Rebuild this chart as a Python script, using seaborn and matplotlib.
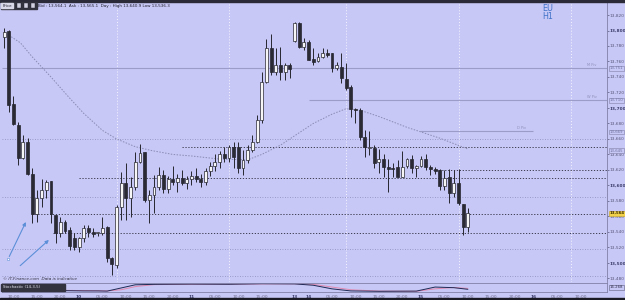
import numpy as np
import pandas as pd
import matplotlib
matplotlib.use("Agg")
import matplotlib.pyplot as plt
from matplotlib.patches import Rectangle
import seaborn as sns

sns.set_theme(style="white")
plt.rcParams['font.family'] = ['DejaVu Sans']

# ---------------- data (hourly candles, index 0 = day 9 08:00) ----------------
opens = [13792, 13799, 13705, 13678, 13635, 13656, 13615, 13563, 13584, 13594,
         13606, 13562, 13539, 13553, 13542, 13532, 13521, 13532, 13545, 13540,
         13539, 13538, 13546, 13506, 13497, 13572, 13603, 13584, 13598, 13630,
         13643, 13581, 13588, 13598, 13613, 13595, 13608, 13605, 13610, 13603,
         13608, 13612, 13608, 13604, 13618, 13625, 13630, 13640, 13636, 13650,
         13650, 13622, 13633, 13646, 13656, 13684, 13733, 13778, 13746, 13755,
         13746, 13755, 13786, 13810, 13779, 13785, 13763, 13761, 13766, 13771,
         13771, 13752, 13753, 13737, 13727, 13699, 13697, 13663, 13648, 13648,
         13630, 13634, 13624, 13622, 13624, 13611, 13625, 13634, 13622, 13625,
         13634, 13624, 13621, 13620, 13599, 13611, 13590, 13603, 13576, 13546]
highs = [13803, 13801, 13715, 13682, 13665, 13661, 13622, 13594, 13608, 13607,
         13606, 13562, 13559, 13555, 13546, 13538, 13534, 13549, 13549, 13545,
         13540, 13559, 13548, 13507, 13575, 13617, 13629, 13611, 13643, 13653,
         13643, 13594, 13613, 13624, 13620, 13612, 13625, 13615, 13620, 13612,
         13618, 13622, 13615, 13622, 13630, 13640, 13645, 13650, 13652, 13656,
         13656, 13646, 13652, 13665, 13691, 13746, 13789, 13795, 13777, 13779,
         13758, 13758, 13811, 13811, 13790, 13788, 13777, 13771, 13777, 13776,
         13771, 13759, 13771, 13758, 13730, 13700, 13700, 13671, 13670, 13652,
         13647, 13641, 13634, 13629, 13633, 13644, 13635, 13639, 13626, 13638,
         13641, 13626, 13624, 13621, 13620, 13621, 13620, 13621, 13576, 13571]
lows = [13777, 13695, 13678, 13626, 13634, 13613, 13551, 13553, 13572, 13584,
        13552, 13526, 13533, 13538, 13517, 13517, 13514, 13527, 13533, 13533,
        13535, 13536, 13501, 13484, 13493, 13555, 13555, 13559, 13594, 13629,
        13579, 13552, 13564, 13594, 13590, 13590, 13600, 13592, 13600, 13596,
        13600, 13605, 13598, 13600, 13612, 13618, 13622, 13630, 13630, 13622,
        13616, 13613, 13629, 13643, 13655, 13681, 13732, 13742, 13742, 13736,
        13736, 13739, 13785, 13777, 13775, 13762, 13755, 13759, 13765, 13766,
        13746, 13749, 13732, 13723, 13688, 13681, 13659, 13637, 13639, 13622,
        13616, 13611, 13592, 13611, 13611, 13611, 13622, 13616, 13611, 13624,
        13620, 13613, 13615, 13594, 13594, 13577, 13585, 13575, 13536, 13540]
closes = [13798, 13704, 13679, 13635, 13656, 13615, 13563, 13584, 13594, 13604,
          13563, 13539, 13553, 13541, 13522, 13521, 13532, 13545, 13540, 13537,
          13540, 13545, 13506, 13498, 13572, 13603, 13584, 13598, 13630, 13642,
          13581, 13588, 13598, 13613, 13595, 13608, 13605, 13610, 13603, 13608,
          13612, 13608, 13604, 13618, 13625, 13630, 13640, 13636, 13650, 13637,
          13622, 13633, 13646, 13656, 13684, 13733, 13778, 13746, 13755, 13746,
          13755, 13750, 13810, 13779, 13785, 13762, 13759, 13766, 13771, 13768,
          13752, 13755, 13739, 13726, 13699, 13697, 13663, 13650, 13650, 13629,
          13634, 13624, 13621, 13621, 13611, 13624, 13634, 13622, 13625, 13634,
          13624, 13621, 13619, 13599, 13610, 13590, 13603, 13577, 13546, 13564]

# slow moving average (read at selected candles)
ma_idx = [1, 3.5, 6, 10, 13.5, 17, 21, 24, 28, 31.5, 36, 40, 46, 52, 55, 59, 62, 66, 70, 73, 76, 80, 86, 93, 99]
ma_val = [13794, 13784, 13766, 13740, 13716, 13693, 13671, 13660, 13650, 13645, 13640, 13638, 13634, 13633, 13640, 13652, 13664, 13680, 13692, 13699, 13697, 13689, 13675, 13661, 13647]

# stochastic (14-3-5)
st_idx = [13, 17, 20, 22, 25, 28, 32, 40, 48, 55, 62, 66, 70, 74, 80, 88, 92, 96, 99]
st_k = [15, 12, 12, 10, 45, 80, 85, 88, 86, 92, 90, 75, 35, 12, 8, 10, 55, 48, 30]
st_d = [18, 16, 14, 12, 25, 60, 82, 86, 87, 90, 91, 85, 55, 25, 10, 8, 35, 50, 40]

# pivots and drawn levels
pivot_names = ["M Piv", "W Piv", "D Piv"]
pivot_levels = [13751, 13710, 13670]
dark_levels = [13650, 13620, 13610, 13563, 13539]
grey_levels = [13660, 13585, 13518, 13483]
axis_boxes = ["13,751", "13,710", "13,669", "13,645"]
axis_box_levels = [13751, 13710, 13669, 13645]
last_price = 13564

price_ticks = list(range(13480, 13821, 20))
time_pos = [2, 7, 12, 16, 21, 26, 31, 36, 40, 45, 50, 55, 62, 65, 70, 75, 80, 85, 89, 94, 99, 104, 109, 113, 118, 123]
time_lab = ["10:00", "15:00", "20:00", "10", "05:00", "10:00", "15:00", "20:00", "11", "05:00", "10:00", "15:00",
            "13", "14", "05:00", "10:00", "15:00", "20:00", "15", "05:00", "10:00", "15:00", "20:00", "16", "05:00", "10:00"]
day_sep = [24, 48, 73, 97, 121]

# ---------------- figure ----------------
BG = "#c8c8f6"
W, H = 625, 300
fig = plt.figure(figsize=(6.25, 3.0), dpi=100, facecolor=BG)


def px_axes(x0, y0, x1, y1):
    return fig.add_axes([x0 / W, 1 - y1 / H, (x1 - x0) / W, (y1 - y0) / H])


XL = (-0.45, 128.7)
ax = px_axes(2, 2, 607, 282)
ax.set_facecolor(BG)
ax.set_xlim(*XL)
ax.set_ylim(13475.3, 13836.8)

df = pd.DataFrame({"o": opens, "h": highs, "l": lows, "c": closes})
df["x"] = np.arange(len(df))
df["up"] = df["c"] >= df["o"]
df["bot"] = df[["o", "c"]].min(axis=1)
df["ht"] = (df["c"] - df["o"]).abs().clip(lower=0.9)

# background levels
for v in grey_levels:
    ax.axhline(v, color="#8c8cbc", lw=0.6, ls=(0, (1, 2)), zorder=1)
for v in day_sep:
    ax.axvline(v, color="#f4f4ff", lw=0.7, ls=(0, (1, 2)), zorder=1)
starts = [38, 91.5, 16, 6, 10.5]
for v, s in zip(dark_levels, starts):
    ax.hlines(v, s, XL[1], color="#2a2a3a", lw=0.6, ls=(0, (1.5, 2)), zorder=1.5)
piv_start = [XL[0], 65, 88.8]
piv_end = [XL[1], XL[1], 112.9]
for v, s, e in zip(pivot_levels, piv_start, piv_end):
    ax.hlines(v, s, e, color="#9c9cc8", lw=0.8, zorder=1.2)
piv_lx = [125.5, 125.5, 110.5]
for name, v, lx in zip(pivot_names, pivot_levels, piv_lx):
    ax.text(lx, v + 2, name, fontsize=2.6, color="#9090bb", ha="center", va="bottom")

# moving average
sns.lineplot(x=ma_idx, y=ma_val, ax=ax, color="#8a8ab4", lw=0.7, ls=(0, (1.5, 1.5)), zorder=2)

# candles
ax.vlines(df["x"], df["l"], df["h"], color="#262630", lw=0.7, zorder=3)
cols = np.where(df["up"], "#f6f6f6", "#2a2a34")
ax.bar(df["x"], df["ht"], bottom=df["bot"], width=0.62, color=cols, edgecolor="#262630",
       linewidth=0.5, zorder=4)

# arrows
arrow_tail = [(0.85, 13505), (3.0, 13494)]
arrow_head = [(4.9, 13556), (10.0, 13532)]
for t, hd in zip(arrow_tail, arrow_head):
    ax.annotate("", xy=hd, xytext=t,
                arrowprops=dict(arrowstyle="-|>", color="#5b8fd8", lw=0.8, mutation_scale=5), zorder=5)
ax.plot([arrow_tail[0][0]], [arrow_tail[0][1]], marker="s", ms=2, mfc="white", mec="#5b8fd8", mew=0.4, zorder=6)

# right price axis
ax.yaxis.tick_right()
ax.set_yticks(price_ticks)
ax.set_yticklabels([f"{v:,}" for v in price_ticks])
ax.tick_params(axis="y", labelsize=3.1, colors="#55557a", length=1.5, width=0.5, pad=0.6)
for t, v in zip(ax.get_yticklabels(), price_ticks):
    if v % 100 == 0:
        t.set_fontweight("bold")
        t.set_color("#3c3c6a")
ax.set_xticks([])
for s in ["top", "left", "bottom"]:
    ax.spines[s].set_visible(False)
ax.spines["right"].set_color("#8080a8")
ax.spines["right"].set_linewidth(0.6)

for lab, v in zip(axis_boxes, axis_box_levels):
    ax.text(1.0045, v, lab, transform=ax.get_yaxis_transform(), fontsize=2.8, color="#7070a0",
            va="center", ha="left",
            bbox=dict(boxstyle="square,pad=0.1", fc=BG, ec="#8080a8", lw=0.4), zorder=7, clip_on=False)
ax.text(1.0045, last_price, "13,564", transform=ax.get_yaxis_transform(), fontsize=2.8, color="#403000",
        va="center", ha="left", fontweight="bold",
        bbox=dict(boxstyle="square,pad=0.1", fc="#f2d24a", ec="#c8a020", lw=0.4), zorder=7, clip_on=False)

# ---------------- stochastic panel ----------------
ax2 = px_axes(2, 283, 607, 292)
ax2.set_facecolor(BG)
ax2.set_xlim(*XL)
ax2.set_ylim(0, 100)
sns.lineplot(x=st_idx, y=st_d, ax=ax2, color="#e08ab0", lw=0.7)
sns.lineplot(x=st_idx, y=st_k, ax=ax2, color="#1e2a55", lw=0.7)
ax2.set_yticks([])
ax2.set_ylabel("")
ax2.set_xticks(time_pos)
ax2.set_xticklabels(time_lab)
ax2.tick_params(axis="x", labelsize=3.2, colors="#6a6a8a", length=1.5, width=0.4, pad=1.0)
for t, lab in zip(ax2.get_xticklabels(), time_lab):
    if ":" not in lab:
        t.set_fontweight("bold")
        t.set_color("#3c3c6a")
for s in ax2.spines.values():
    s.set_color("#8080a8")
    s.set_linewidth(0.6)
ax2.text(1.0045, 50, "16.268", transform=ax2.get_yaxis_transform(), fontsize=2.8, color="#303050",
         va="center", ha="left", bbox=dict(boxstyle="square,pad=0.1", fc=BG, ec="#606080", lw=0.4),
         clip_on=False)

# ---------------- decorations ----------------
fig.patches.append(Rectangle((0, 1 - 1.5 / H), 1, 1.5 / H, transform=fig.transFigure, color="#2a2a38", zorder=0))
fig.patches.append(Rectangle((0, 0), 1, 2 / H, transform=fig.transFigure, color="#1a1a24", zorder=0))
fig.patches.append(Rectangle((1 / W, 1 - 9 / H), 36 / W, 7 / H, transform=fig.transFigure, color="#33333f", zorder=8))
fig.patches.append(Rectangle((1.5 / W, 1 - 8.3 / H), 11 / W, 5.6 / H, transform=fig.transFigure, color="#d8d8e8", zorder=9))
for ix in [17, 24, 31]:
    fig.patches.append(Rectangle((ix / W, 1 - 7.8 / H), 4 / W, 4.5 / H, transform=fig.transFigure,
                                 fc="#d0d0e0", ec="#202030", lw=0.3, zorder=9))
fig.text(7 / W, 1 - 5.6 / H, "Price", fontsize=2.8, color="#202030", ha="center", va="center", zorder=10)
fig.text(38 / W, 1 - 5.6 / H, "Bid : 13,564.1  Ask : 13,565.1  Day : High 13,640.9 Low 13,536.3",
         fontsize=3.0, color="#202030", ha="left", va="center")
fig.text(548 / W, 1 - 8.5 / H, "EU", fontsize=5.8, color="#3f72c8", ha="center", va="center")
fig.text(548 / W, 1 - 16.5 / H, "H1", fontsize=5.8, color="#3f72c8", ha="center", va="center")
fig.text(3 / W, 1 - 279 / H, "\u00a9 IT-Finance.com  Data is indicative", fontsize=3.0, style="italic",
         color="#303040", ha="left", va="center")
fig.patches.append(Rectangle((1 / W, 1 - 290.5 / H), 64 / W, 7 / H, transform=fig.transFigure, color="#33333f", zorder=8))
fig.text(3 / W, 1 - 287 / H, "Stochastic (14-3-5)", fontsize=2.8, color="#e8e8f4", ha="left", va="center", zorder=10)

fig.savefig("out.png", dpi=100, facecolor=BG)
